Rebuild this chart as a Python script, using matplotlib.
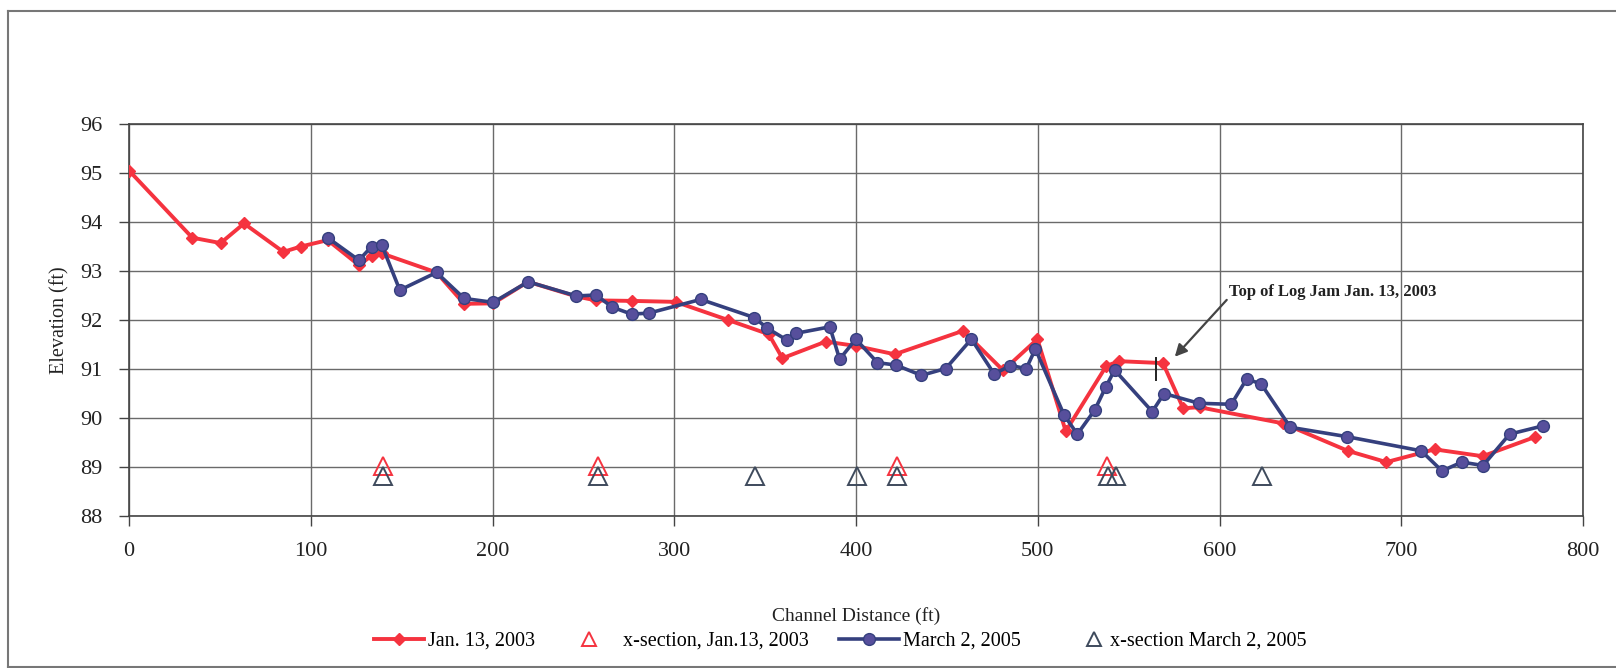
import matplotlib
matplotlib.use('Agg')
import matplotlib.pyplot as plt
from matplotlib.lines import Line2D

plt.rcParams['font.family'] = ['Liberation Serif', 'DejaVu Serif']

# Jan. 13, 2003 survey
jan_x = [0, 34.8, 50.4, 63.3, 84.9, 94.6, 109.3, 126.5, 133.5, 139, 169.2, 184.4, 200.4,
         219.6, 246.2, 256.9, 276.5, 300.7, 329.6, 352, 359.5, 383.4, 400, 421.3, 458.9,
         481, 499.8, 515.4, 537.7, 544.6, 568.9, 580, 589, 635, 670.6, 691.8, 718.4, 744.8, 773.4]
jan_y = [95.05, 93.68, 93.57, 93.97, 93.39, 93.50, 93.63, 93.12, 93.31, 93.36, 92.97, 92.33, 92.34,
         92.78, 92.48, 92.40, 92.39, 92.37, 92.00, 91.71, 91.22, 91.56, 91.47, 91.30, 91.78,
         90.97, 91.61, 89.73, 91.06, 91.16, 91.12, 90.20, 90.22, 89.89, 89.33, 89.10, 89.36, 89.22, 89.61]

# March 2, 2005 survey
mar_x = [109.3, 126.5, 133.5, 139, 149, 169.2, 184.4, 200.4, 219.6, 246.2, 256.9, 266, 276.5,
         286, 314.6, 344, 351.3, 362, 367.2, 385.6, 391, 399.9, 411.8, 422, 436, 449.4, 463.5,
         476, 485, 493.7, 498.7, 514.5, 521.8, 531.3, 537.4, 542.3, 563, 569.5, 588.7, 606.5,
         615, 623, 639, 670, 711, 722.4, 733.4, 745, 759.6, 778]
mar_y = [93.68, 93.22, 93.50, 93.54, 92.61, 92.97, 92.44, 92.36, 92.78, 92.49, 92.51, 92.26, 92.12,
         92.14, 92.42, 92.05, 91.83, 91.59, 91.73, 91.86, 91.20, 91.61, 91.13, 91.08, 90.87, 91.01, 91.61,
         90.90, 91.07, 91.01, 91.41, 90.06, 89.67, 90.16, 90.63, 90.98, 90.13, 90.50, 90.30, 90.28,
         90.80, 90.69, 89.81, 89.62, 89.33, 88.92, 89.10, 89.03, 89.67, 89.84]

# cross-section locations
xs_jan_x = [140, 258, 422.5, 538]
xs_jan_y = [89.02, 89.02, 89.02, 89.02]
xs_mar_x = [140, 258, 344.3, 400.5, 422.5, 538.5, 543, 623.3]
xs_mar_y = [88.82, 88.82, 88.82, 88.82, 88.82, 88.82, 88.82, 88.82]

red = '#f5333f'
navy = '#35407e'

W, H = 1616, 668
fig = plt.figure(figsize=(W/100, H/100), dpi=100)
ax = fig.add_axes([129/W, 1-516/H, (1583-129)/W, (516-124)/H])

l1, = ax.plot(jan_x, jan_y, color=red, lw=2.8, marker='D', ms=6.5, mfc=red, mec=red,
              label='Jan. 13, 2003', zorder=4)
l2, = ax.plot(xs_jan_x, xs_jan_y, ls='none', marker='^', ms=13, mfc='none', mec=red, mew=1.4,
              label='x-section, Jan.13, 2003', zorder=3)
l3, = ax.plot(mar_x, mar_y, color=navy, lw=2.6, marker='o', ms=8.5, mfc='#574f9c', mec=navy,
              label='March 2, 2005', zorder=5)
l4, = ax.plot(xs_mar_x, xs_mar_y, ls='none', marker='^', ms=13, mfc='none', mec='#3e4a5c', mew=1.4,
              label='x-section March 2, 2005', zorder=3)

# log jam marker and note
ax.plot([565, 565], [90.78, 91.22], color='#222222', lw=1.4, zorder=6)
ax.annotate('Top of Log Jam Jan. 13, 2003', xy=(575.4, 91.25), xytext=(605.5, 92.57),
            fontsize=12, fontweight='bold', va='center', ha='left', color='#222222',
            arrowprops=dict(arrowstyle='-|>', color='#444444', lw=1.6, mutation_scale=18,
                            shrinkA=0, shrinkB=0, relpos=(0, 0.2)))

ax.set_xlim(0, 800)
ax.set_ylim(88, 96)
ax.set_xticks(range(0, 801, 100))
ax.set_yticks(range(88, 97))
ax.grid(True, color='#6a6a6a', lw=1)
ax.set_axisbelow(True)
for s in ax.spines.values():
    s.set_color('#444444')
    s.set_linewidth(1.2)
ax.tick_params(direction='out', length=7, width=1, colors='#444444', labelcolor='#222222',
               labelsize=16, pad=12)
ax.set_xlabel('Channel Distance (ft)', fontsize=14, color='#222222', labelpad=33)
ax.set_ylabel('Elevation (ft)', fontsize=14.5, color='#222222', labelpad=8)

# legend entries are spaced unevenly in the original, so place each one separately
entries = [(l1, 374, 2.5, 0.18), (l2, 579, 1.0, 1.18), (l3, 839, 3.0, 0.18), (l4, 1084, 1.0, 0.3)]
for line, x0, hl, pad in entries:
    leg = fig.legend([line], [line.get_label()], loc='center left',
                     bbox_to_anchor=(x0/W, 1-641/H), frameon=False, fontsize=14.5,
                     handlelength=hl, handletextpad=pad, borderpad=0, borderaxespad=0)
    if line.get_linestyle() == 'None':
        leg.legend_handles[0].set_markersize(10)

# outer chart border (open on the right, as in the scan)
lx = 8/W
for xs, ys in [([lx, 1.0], [1-11/H, 1-11/H]), ([lx, lx], [1-11/H, 1/H]), ([lx, 1.0], [1/H, 1/H])]:
    fig.add_artist(Line2D(xs, ys, transform=fig.transFigure, color='#777777', lw=1.5))

fig.savefig('out.png', dpi=100)
